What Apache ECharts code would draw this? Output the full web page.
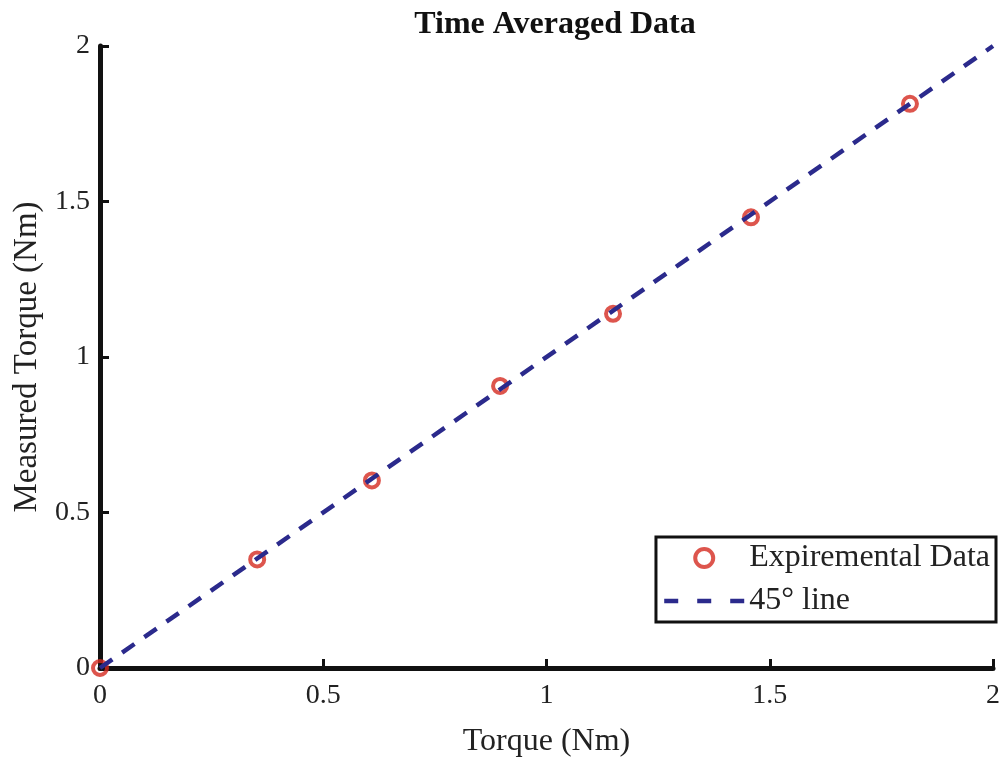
<!DOCTYPE html>
<html><head><meta charset="utf-8">
<script src="https://cdn.jsdelivr.net/npm/echarts@6/dist/echarts.min.js"></script>
<style>html,body{margin:0;padding:0;background:#fff}#c{width:1006px;height:763px}</style>
</head><body><div id="c"></div>
<script>
const appliedTorque = [0, 0.352, 0.609, 0.896, 1.149, 1.458, 1.814];
const measuredTorque = [0, 0.349, 0.603, 0.907, 1.139, 1.449, 1.814];
const lineX = [0, 2];
const lineY = [0, 2];
const FONT = 'Liberation Serif';

const chart = echarts.init(document.getElementById('c'));
chart.setOption({
  animation: false,
  backgroundColor: '#fff',
  title: {
    text: 'Time Averaged Data', left: 550, top: 4, textAlign: 'center',
    textStyle: {fontFamily: FONT, fontSize: 32, fontWeight: 'bold', color: '#111'}
  },
  grid: {left: 100, right: 13, top: 46, bottom: 93},
  xAxis: {
    type: 'value', min: 0, max: 2, interval: 0.5,
    name: 'Torque (Nm)', nameLocation: 'middle', nameGap: 58,
    nameTextStyle: {fontFamily: FONT, fontSize: 32, color: '#222'},
    axisLine: {show: true, lineStyle: {color: '#111', width: 5}},
    axisTick: {show: true, inside: true, length: 9, lineStyle: {color: '#111', width: 3}},
    axisLabel: {fontFamily: FONT, fontSize: 28, color: '#222', margin: 14},
    splitLine: {show: false}
  },
  yAxis: {
    type: 'value', min: 0, max: 2, interval: 0.5,
    name: 'Measured Torque (Nm)', nameLocation: 'middle', nameGap: 55,
    nameTextStyle: {fontFamily: FONT, fontSize: 33, color: '#222'},
    axisLine: {show: true, lineStyle: {color: '#111', width: 5}},
    axisTick: {show: true, inside: true, length: 9, lineStyle: {color: '#111', width: 3}},
    axisLabel: {fontFamily: FONT, fontSize: 28, color: '#222', margin: 10},
    splitLine: {show: false}
  },
  legend: {
    orient: 'vertical', right: 10, top: 537,
    backgroundColor: '#fff',
    borderColor: '#111', borderWidth: 3, borderRadius: 0,
    padding: [5, 6, 5, 6], itemGap: 11,
    itemWidth: 80, itemHeight: 18,
    textStyle: {fontFamily: FONT, fontSize: 32, color: '#222'},
    data: [
      {name: 'Expiremental Data', icon: 'circle',
       itemStyle: {color: 'rgba(255,255,255,0)', borderColor: '#d42a20', borderWidth: 4}},
      {name: '45° line', itemStyle: {opacity: 0},
       lineStyle: {color: '#2b2a8c', width: 4.5, type: [14, 19]}}
    ]
  },
  series: [
    {
      name: 'Expiremental Data', type: 'scatter', z: 2,
      symbol: 'circle', symbolSize: 14,
      data: appliedTorque.map((x, i) => [x, measuredTorque[i]]),
      itemStyle: {color: 'rgba(255,255,255,0)', borderColor: '#d42a20', borderWidth: 4}
    },
    {
      name: '45° line', type: 'line', symbol: 'none', showSymbol: false, z: 3,
      data: lineX.map((x, i) => [x, lineY[i]]),
      lineStyle: {color: '#2b2a8c', width: 4.5, type: [15, 12]},
      itemStyle: {color: '#2b2a8c'}
    }
  ]
});
</script></body></html>
